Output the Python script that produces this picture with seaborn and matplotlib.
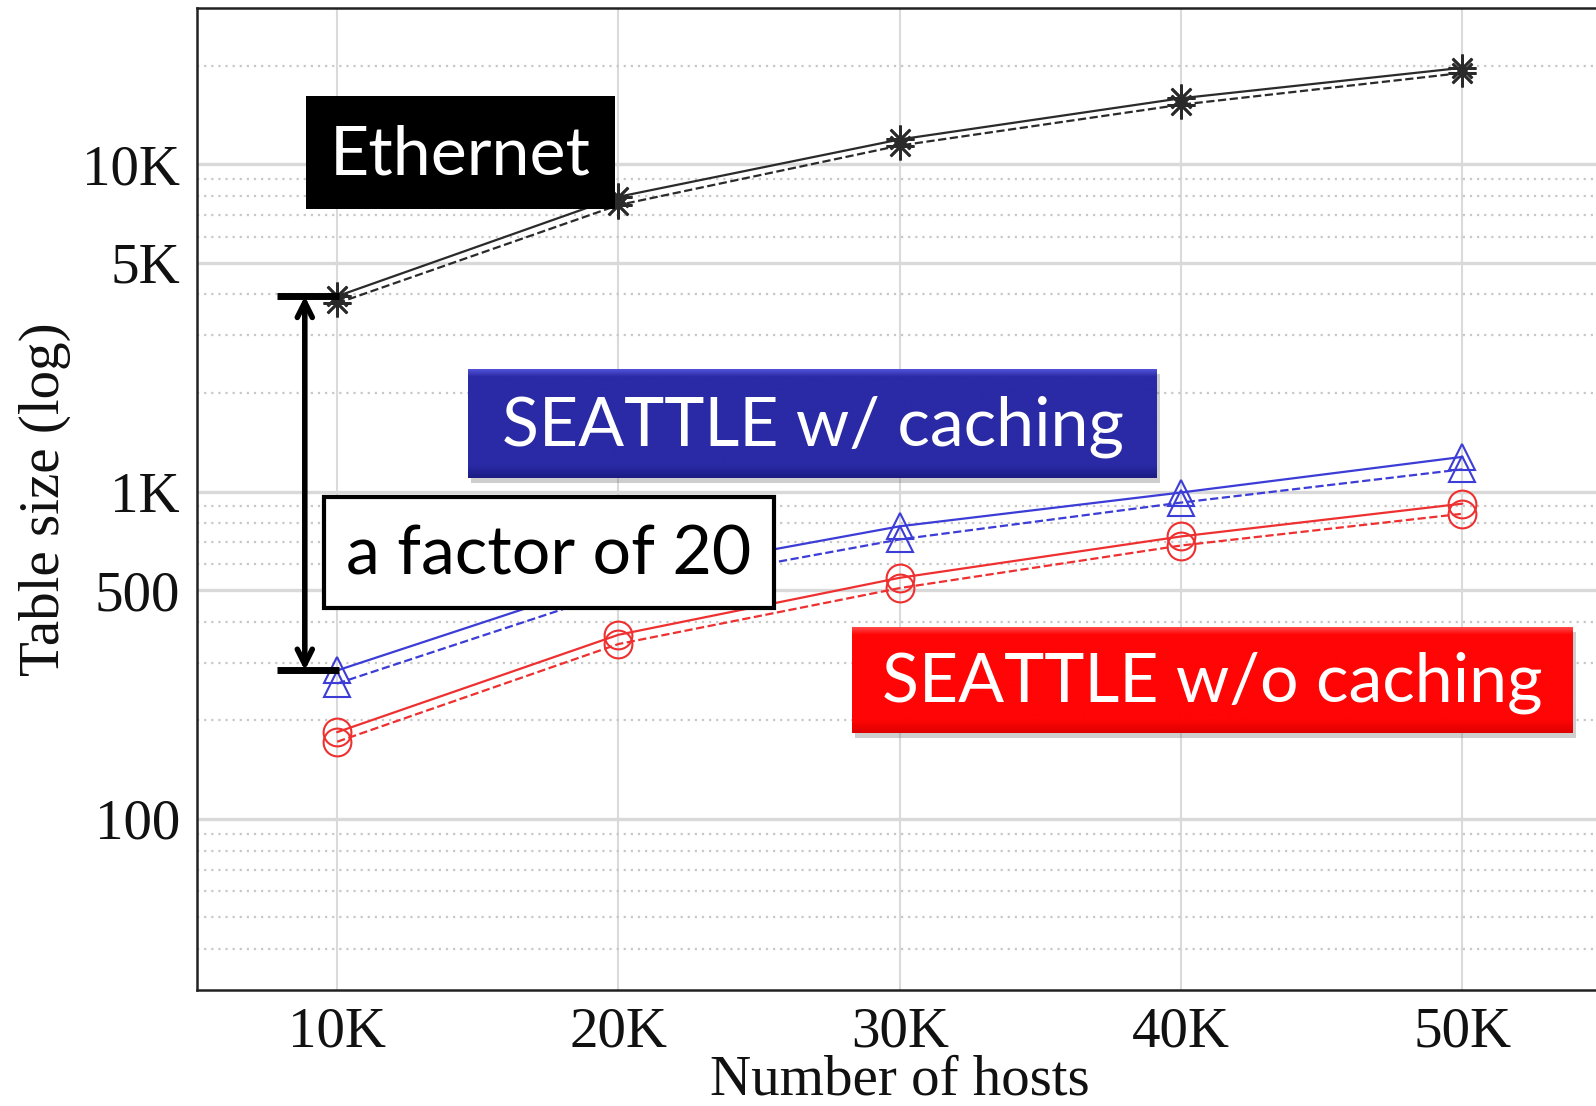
import numpy as np
import pandas as pd
import matplotlib
matplotlib.use("Agg")
import matplotlib.pyplot as plt
import seaborn as sns
from matplotlib.patches import Rectangle
from matplotlib.colors import LinearSegmentedColormap
from matplotlib.ticker import FixedLocator, NullFormatter

# ---- data -------------------------------------------------------------
hosts = [10000, 20000, 30000, 40000, 50000]
ethernet_solid = [3950, 7950, 11900, 15900, 19700]
ethernet_dashed = [3760, 7500, 11400, 15200, 19000]
caching_solid = [284, 545, 783, 993, 1276]
caching_dashed = [259, 497, 714, 925, 1169]
nocaching_solid = [184, 365, 545, 729, 918]
nocaching_dashed = [172, 342, 507, 684, 855]

xtick_labels = ["10K", "20K", "30K", "40K", "50K"]
ytick_values = [100, 500, 1000, 5000, 10000]
ytick_labels = ["100", "500", "1K", "5K", "10K"]

# ---- figure -----------------------------------------------------------
sns.set_theme(style="white")
plt.rcParams["font.family"] = ["Liberation Serif", "DejaVu Serif"]

W, H = 1596, 1106
fig = plt.figure(figsize=(W / 100, H / 100), dpi=100)
ax = fig.add_axes([196.5 / W, 1 - 990 / H, (1603 - 196.5) / W, (990 - 8) / H])

ax.set_yscale("log")
ax.set_xlim(5000, 55000)
ax.set_ylim(30, 30000)

series = [
    (ethernet_solid, "#2a2a2a", (8, 2, 0), "-", 20, 1.9),
    (ethernet_dashed, "#2a2a2a", (8, 2, 0), "--", 20, 1.9),
    (caching_solid, "#3c3cd6", "^", "-", 19, 1.5),
    (caching_dashed, "#3c3cd6", "^", "--", 19, 1.5),
    (nocaching_solid, "#ee3030", "o", "-", 20, 1.5),
    (nocaching_dashed, "#ee3030", "o", "--", 20, 1.5),
]
for vals, color, marker, ls, ms, mew in series:
    df = pd.DataFrame({"hosts": hosts, "size": vals})
    sns.lineplot(data=df, x="hosts", y="size", ax=ax, color=color,
                 linestyle=ls, linewidth=1.6, marker=marker, markersize=ms,
                 markerfacecolor="none", markeredgecolor=color,
                 markeredgewidth=mew)

ax.xaxis.set_major_locator(FixedLocator(hosts))
ax.set_xticklabels(xtick_labels)
ax.yaxis.set_major_locator(FixedLocator(ytick_values))
ax.set_yticklabels(ytick_labels)
minor = [m * d for d in (10, 100, 1000, 10000) for m in range(2, 10)]
minor = [v for v in minor if 30 < v < 30000 and v not in ytick_values]
ax.yaxis.set_minor_locator(FixedLocator(minor))
ax.yaxis.set_minor_formatter(NullFormatter())

ax.grid(True, which="major", axis="y", color="#d9d9d9", lw=2.4, ls="-")
ax.grid(True, which="minor", axis="y", color="#c8c8c8", lw=1.6, ls=(0, (1, 2.2)))
ax.grid(True, which="major", axis="x", color="#dadada", lw=1.5, ls="-")
ax.set_axisbelow(True)
ax.tick_params(which="both", length=0, labelsize=41, colors="#111111")
ax.tick_params(axis="x", pad=12)
ax.tick_params(axis="y", pad=12)

ax.set_xlabel("Number of hosts", fontsize=41, labelpad=-3, color="#111111")
ax.set_ylabel("Table size (log)", fontsize=41, labelpad=8, color="#111111")

for side in ("left", "bottom", "top", "right"):
    ax.spines[side].set_color("#222222")
    ax.spines[side].set_linewidth(1.8)

# ---- "factor" arrow between Ethernet and SEATTLE at 10K hosts ---------
ax.annotate("", xy=(8850, caching_solid[0]), xytext=(8850, ethernet_solid[0]),
            arrowprops=dict(arrowstyle="<->,head_length=0.9,head_width=0.45",
                            lw=4, color="black", shrinkA=0, shrinkB=0),
            zorder=6)
ax.plot([7850, 10050], [ethernet_solid[0]] * 2, color="black", lw=5,
        solid_capstyle="butt", zorder=6)
ax.plot([7850, 10050], [caching_solid[0]] * 2, color="black", lw=5,
        solid_capstyle="butt", zorder=6)

# ---- label boxes in pixel space ----------------------------------------
ov = fig.add_axes([0, 0, 1, 1], zorder=5)
ov.axis("off")
ov.patch.set_alpha(0)

box_font = ["Lato", "DejaVu Sans"]


def label_box(x0, y0, x1, y1, top, mid, bottom, text, tcolor, size,
              edge=None, shadow=True):
    if shadow:
        ov.add_patch(Rectangle((x0 + 3, y0 + 5), x1 - x0, y1 - y0,
                               color="0.45", alpha=0.35, lw=0))
    cmap = LinearSegmentedColormap.from_list(
        "box", [(0.0, top), (0.07, mid), (0.88, mid), (1.0, bottom)])
    grad = np.linspace(0, 1, 256)[:, None]
    ov.imshow(grad, extent=(x0, x1, y1, y0), cmap=cmap, aspect="auto",
              interpolation="bilinear", zorder=2)
    if edge is not None:
        ov.add_patch(Rectangle((x0, y0), x1 - x0, y1 - y0, fill=False,
                               edgecolor=edge, lw=3, zorder=3))
    ov.text((x0 + x1) / 2, (y0 + y1) / 2 + 3, text, color=tcolor,
            fontsize=size, family=box_font, ha="center", va="center",
            zorder=4)


label_box(306, 96, 615, 209, "#000000", "#000000", "#000000",
          "Ethernet", "white", 49, shadow=False)
label_box(468, 369, 1157, 478, "#5252d8", "#2a2aa6", "#1c1c84",
          "SEATTLE w/ caching", "white", 49)
label_box(324, 497, 774, 608, "#ffffff", "#ffffff", "#ffffff",
          "a factor of 20", "black", 49, edge="black", shadow=False)
label_box(852, 627, 1573, 733, "#ff4a4a", "#ff0505", "#dc0000",
          "SEATTLE w/o caching", "white", 49)

ov.set_xlim(0, W)
ov.set_ylim(H, 0)

fig.savefig("out.png", dpi=100)
